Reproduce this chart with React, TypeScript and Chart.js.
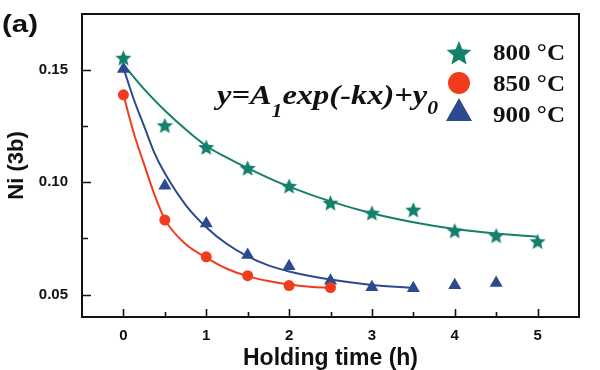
import React, { useEffect, useRef } from 'react';
import { Chart, registerables } from 'chart.js';

Chart.register(...registerables);

// Measured points
const hours800 = [0, 0.5, 1, 1.5, 2, 2.5, 3, 3.5, 4, 4.5, 5];
const ni800 = [0.1553, 0.1252, 0.1155, 0.1062, 0.0982, 0.0907, 0.0862, 0.0876, 0.0783, 0.0761, 0.0735];
const hours850 = [0, 0.5, 1, 1.5, 2, 2.5];
const ni850 = [0.139, 0.0832, 0.0668, 0.0584, 0.054, 0.0531];
const hours900 = [0, 0.5, 1, 1.5, 2, 2.5, 3, 3.5, 4, 4.5];
const ni900 = [0.1505, 0.0985, 0.0817, 0.0676, 0.0626, 0.0562, 0.0533, 0.0528, 0.0542, 0.0551];

// Fitted curves
const fitHours800 = [0, 0.25, 0.5, 0.75, 1, 1.25, 1.5, 1.75, 2, 2.5, 3, 3.5, 4, 4.5, 5];
const fit800 = [0.1525, 0.1415, 0.132, 0.1236, 0.1162, 0.111, 0.1063, 0.102, 0.0981, 0.0915, 0.0862, 0.0822, 0.0792, 0.0772, 0.0757];
const fitHours850 = [0, 0.125, 0.25, 0.375, 0.5, 0.75, 1, 1.25, 1.5, 1.75, 2, 2.25, 2.5];
const fit850 = [0.139, 0.122, 0.108, 0.0945, 0.0835, 0.0725, 0.0665, 0.0615, 0.0582, 0.056, 0.0545, 0.0535, 0.053];
const fitHours900 = [0, 0.125, 0.25, 0.375, 0.5, 0.75, 1, 1.25, 1.5, 1.75, 2, 2.5, 3, 3.5];
const fit900 = [0.151, 0.137, 0.125, 0.113, 0.104, 0.09, 0.08, 0.0725, 0.067, 0.063, 0.0603, 0.0567, 0.0543, 0.053];

const xTicks = [0, 1, 2, 3, 4, 5];
const xMinorTicks = [0.5, 1.5, 2.5, 3.5, 4.5];
const yTicks = [0.05, 0.1, 0.15];
const yMinorTicks = [0.075, 0.125];
const legendLabels = ['800 °C', '850 °C', '900 °C'];
const panelLabel = '(a)';
const xTitle = 'Holding time (h)';
const yTitle = 'Ni (3b)';

const C800 = '#13806b';
const C850 = '#f23b1c';
const C900 = '#2c4a8d';
const INK = '#111111';

function starPath(ctx: CanvasRenderingContext2D, cx: number, cy: number, R: number, r: number) {
  ctx.beginPath();
  for (let i = 0; i < 10; i++) {
    const rad = i % 2 === 0 ? R : r;
    const a = -Math.PI / 2 + (i * Math.PI) / 5;
    const px = cx + rad * Math.cos(a);
    const py = cy + rad * Math.sin(a);
    if (i === 0) ctx.moveTo(px, py);
    else ctx.lineTo(px, py);
  }
  ctx.closePath();
}

function makeStar(R: number, color: string) {
  const c = document.createElement('canvas');
  const s = Math.ceil(R * 2 + 2);
  c.width = s;
  c.height = s;
  const ctx = c.getContext('2d')!;
  starPath(ctx, s / 2, s / 2 + R * 0.05, R, R * 0.45);
  ctx.fillStyle = color;
  ctx.fill();
  return c;
}

function toXY(xs: number[], ys: number[]) {
  return xs.map((x, i) => ({ x, y: ys[i] }));
}

function drawScaledText(ctx: CanvasRenderingContext2D, text: string, x: number, y: number, font: string, targetW: number) {
  ctx.font = font;
  const w = ctx.measureText(text).width;
  const s = targetW / w;
  ctx.save();
  ctx.translate(x, y);
  ctx.scale(s, 1);
  ctx.fillText(text, 0, 0);
  ctx.restore();
}

const decorPlugin = {
  id: 'decor',
  afterDraw(chart: any) {
    const { ctx, chartArea: a, scales } = chart;
    const xs = scales.x;
    const ys = scales.y;
    ctx.save();
    // frame
    ctx.strokeStyle = INK;
    ctx.lineWidth = 2;
    ctx.strokeRect(a.left, a.top, a.right - a.left, a.bottom - a.top);
    // ticks (inward)
    ctx.lineWidth = 1.6;
    ctx.beginPath();
    xTicks.forEach((v) => {
      const px = Math.round(xs.getPixelForValue(v)) + 0.5;
      ctx.moveTo(px, a.bottom);
      ctx.lineTo(px, a.bottom - 8);
    });
    xMinorTicks.forEach((v) => {
      const px = Math.round(xs.getPixelForValue(v)) + 0.5;
      ctx.moveTo(px, a.bottom);
      ctx.lineTo(px, a.bottom - 5);
    });
    yTicks.forEach((v) => {
      const py = Math.round(ys.getPixelForValue(v)) + 0.5;
      ctx.moveTo(a.left, py);
      ctx.lineTo(a.left + 9, py);
    });
    yMinorTicks.forEach((v) => {
      const py = Math.round(ys.getPixelForValue(v)) + 0.5;
      ctx.moveTo(a.left, py);
      ctx.lineTo(a.left + 6, py);
    });
    ctx.stroke();

    // panel label
    ctx.fillStyle = INK;
    ctx.textBaseline = 'alphabetic';
    ctx.textAlign = 'left';
    drawScaledText(ctx, panelLabel, 2, 32, 'bold 24px "Liberation Sans", Arial, sans-serif', 36);

    // equation y=A1exp(-kx)+y0
    const mainFont = 'italic bold 27px "Liberation Serif", "Times New Roman", serif';
    const subFont = 'italic bold 18px "Liberation Serif", "Times New Roman", serif';
    const parts: [string, string, number][] = [
      ['y=A', mainFont, 0],
      ['1', subFont, 13],
      ['exp(-kx)+y', mainFont, 0],
      ['0', subFont, 10],
    ];
    let natural = 0;
    parts.forEach(([t, f]) => {
      ctx.font = f;
      natural += ctx.measureText(t).width;
    });
    const sx = 221 / natural;
    ctx.save();
    ctx.translate(217, 104);
    ctx.scale(sx, 1);
    let cx = 0;
    parts.forEach(([t, f, dy]) => {
      ctx.font = f;
      ctx.fillText(t, cx, dy);
      cx += ctx.measureText(t).width;
    });
    ctx.restore();

    // legend
    const mx = 459;
    starPath(ctx, mx, 54, 13, 5.8);
    ctx.fillStyle = C800;
    ctx.fill();
    ctx.beginPath();
    ctx.arc(mx, 83, 11, 0, Math.PI * 2);
    ctx.fillStyle = C850;
    ctx.fill();
    ctx.beginPath();
    ctx.moveTo(mx, 98);
    ctx.lineTo(mx + 13, 121);
    ctx.lineTo(mx - 13, 121);
    ctx.closePath();
    ctx.fillStyle = C900;
    ctx.fill();

    ctx.fillStyle = INK;
    const lf = 'bold 24px "Liberation Serif", "Times New Roman", serif';
    const baselines = [60, 91, 122];
    legendLabels.forEach((t, i) => {
      drawScaledText(ctx, t, 493, baselines[i], lf, 72);
    });
    ctx.restore();
  },
};

export default function App() {
  const ref = useRef<HTMLCanvasElement | null>(null);

  useEffect(() => {
    document.body.style.margin = '0';
    const canvas = ref.current!;
    const starImg = makeStar(8.5, C800);
    const tickFont = { family: '"Liberation Sans", Arial, sans-serif', size: 15, weight: 'bold' as const };
    const titleFont = { family: '"Liberation Sans", Arial, sans-serif', size: 22, weight: 'bold' as const, lineHeight: 1 };

    const chart = new Chart(canvas, {
      type: 'scatter',
      data: {
        datasets: [
          {
            label: legendLabels[0],
            data: toXY(hours800, ni800),
            pointStyle: starImg as any,
            pointRadius: 8,
            showLine: false,
            backgroundColor: C800,
            borderColor: C800,
          },
          {
            label: legendLabels[1],
            data: toXY(hours850, ni850),
            pointStyle: 'circle',
            pointRadius: 5.5,
            pointBorderWidth: 0,
            showLine: false,
            backgroundColor: C850,
            borderColor: C850,
          },
          {
            label: legendLabels[2],
            data: toXY(hours900, ni900),
            pointStyle: 'triangle',
            pointRadius: 7.5,
            pointBorderWidth: 0,
            showLine: false,
            backgroundColor: C900,
            borderColor: C900,
          },
          {
            label: 'fit800',
            data: toXY(fitHours800, fit800),
            showLine: true,
            pointRadius: 0,
            borderColor: C800,
            borderWidth: 2,
            cubicInterpolationMode: 'monotone',
          },
          {
            label: 'fit850',
            data: toXY(fitHours850, fit850),
            showLine: true,
            pointRadius: 0,
            borderColor: C850,
            borderWidth: 2,
            cubicInterpolationMode: 'monotone',
          },
          {
            label: 'fit900',
            data: toXY(fitHours900, fit900),
            showLine: true,
            pointRadius: 0,
            borderColor: C900,
            borderWidth: 2,
            cubicInterpolationMode: 'monotone',
          },
        ],
      },
      options: {
        responsive: false,
        animation: false,
        events: [],
        layout: { padding: { left: 0, top: 14, right: 21, bottom: 0 } },
        plugins: { legend: { display: false }, tooltip: { enabled: false } },
        scales: {
          x: {
            type: 'linear',
            min: -0.5,
            max: 5.5,
            afterBuildTicks: (s: any) => {
              s.ticks = xTicks.map((v) => ({ value: v }));
            },
            afterFit: (s: any) => {
              s.height = 53;
              s.paddingLeft = 0;
              s.paddingRight = 0;
            },
            grid: { display: false, drawTicks: false },
            border: { display: false },
            ticks: {
              font: tickFont,
              color: INK,
              padding: 10,
              maxRotation: 0,
              callback: (v: any) => String(v),
            },
            title: { display: true, text: xTitle, font: { ...titleFont, size: 23 }, color: INK, padding: { top: 0, bottom: 0 } },
          },
          y: {
            type: 'linear',
            min: 0.04,
            max: 0.175,
            afterBuildTicks: (s: any) => {
              s.ticks = yTicks.map((v) => ({ value: v }));
            },
            afterFit: (s: any) => {
              s.width = 82;
              s.paddingTop = 0;
              s.paddingBottom = 0;
            },
            grid: { display: false, drawTicks: false },
            border: { display: false },
            ticks: {
              font: tickFont,
              color: INK,
              padding: 14,
              callback: (v: any) => Number(v).toFixed(2),
            },
            title: { display: true, text: yTitle, font: titleFont, color: INK, padding: { top: 6, bottom: 0 } },
          },
        },
      },
      plugins: [decorPlugin],
    });
    return () => chart.destroy();
  }, []);

  return (
    <div style={{ position: 'fixed', left: 0, top: 0, width: 600, height: 370, background: '#fff' }}>
      <canvas ref={ref} width={600} height={370} />
    </div>
  );
}
